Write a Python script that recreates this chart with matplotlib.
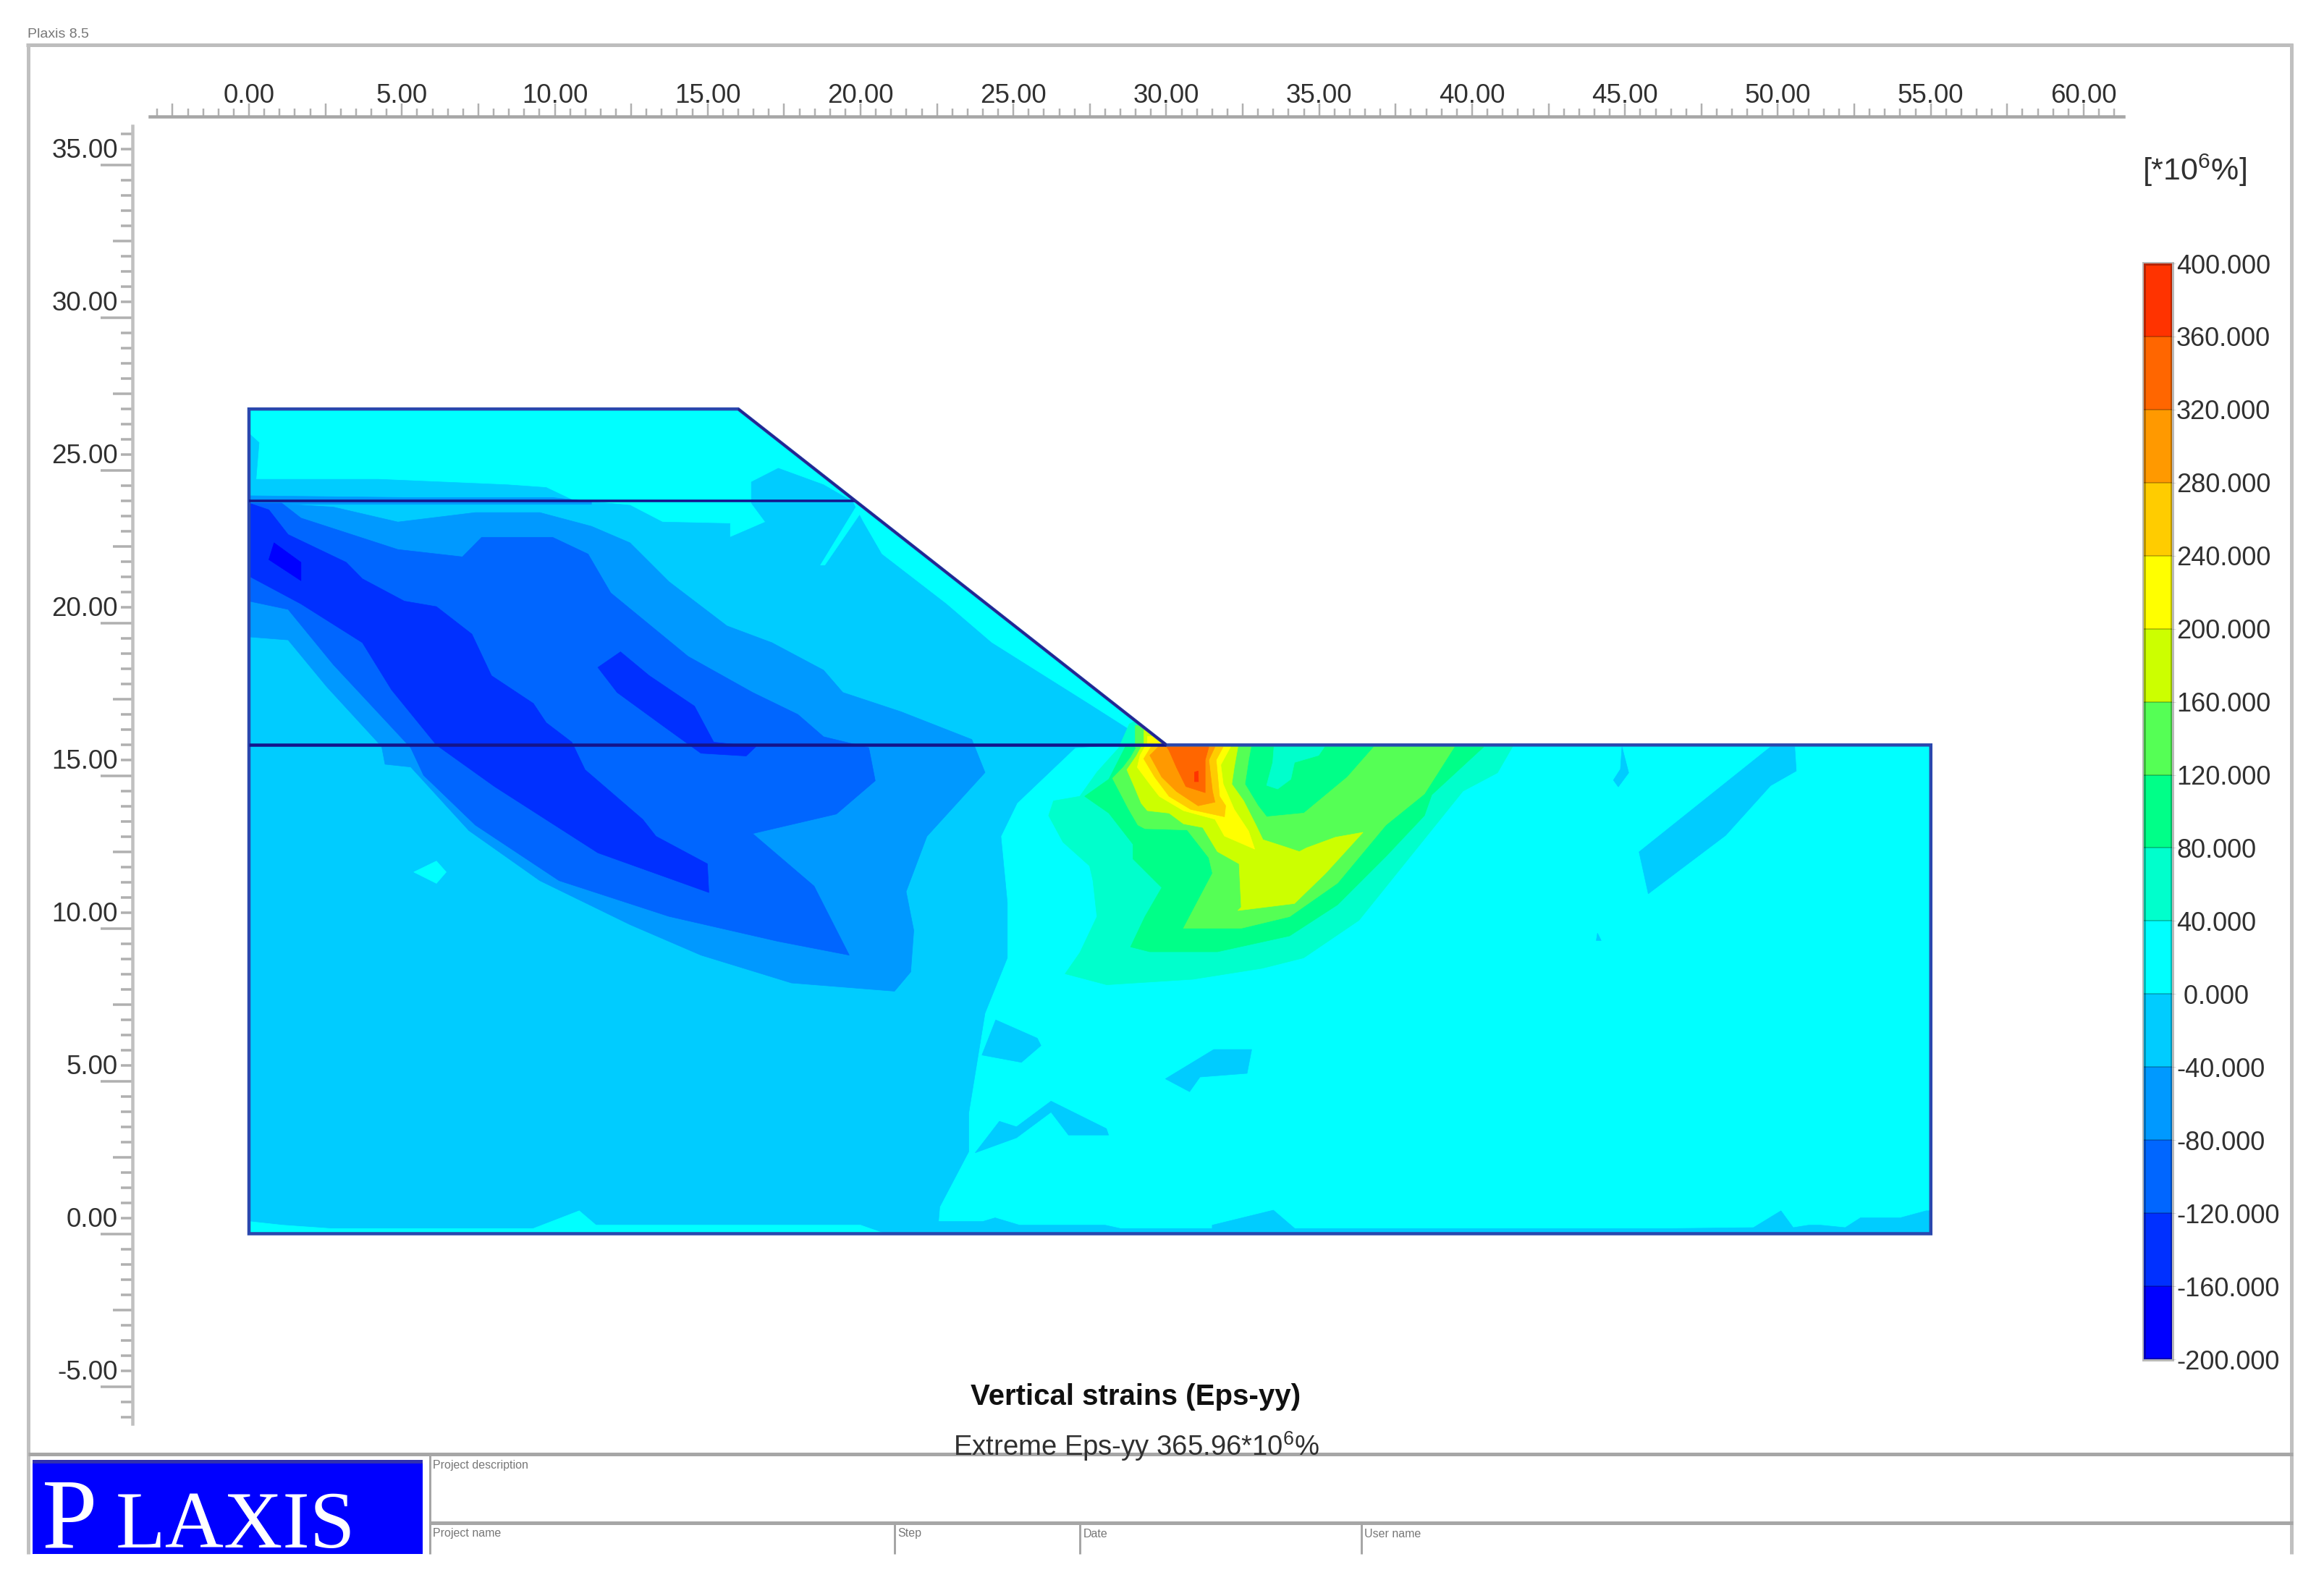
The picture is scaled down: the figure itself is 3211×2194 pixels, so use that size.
import matplotlib
matplotlib.use("Agg")
import matplotlib.pyplot as plt
from matplotlib.colors import ListedColormap, BoundaryNorm
from matplotlib.cm import ScalarMappable
from matplotlib.lines import Line2D
from matplotlib.patches import Polygon, Rectangle
from matplotlib.transforms import ScaledTranslation
import numpy as np

plt.rcParams['font.family'] = ['Liberation Sans', 'DejaVu Sans']
plt.rcParams['mathtext.default'] = 'regular'

W, H = 3212, 2194
DPI = 100

# ---- data ---------------------------------------------------------------
levels = [-200, -160, -120, -80, -40, 0, 40, 80, 120, 160, 200, 240, 280, 320, 360, 400]
band_colors = ['#0000FF', '#0030FF', '#0066FF', '#0099FF', '#00CCFF', '#00FFFF', '#00FFCC',
               '#00FF88', '#55FF55', '#CCFF00', '#FFFF00', '#FFCC00', '#FF9900', '#FF6600', '#FF3300']
x_labels = [0, 5, 10, 15, 20, 25, 30, 35, 40, 45, 50, 55, 60]
y_labels = [-5, 0, 5, 10, 15, 20, 25, 30, 35]

model_outline = [(0, 0), (55, 0), (55, 16), (30, 16), (16, 27), (0, 27)]
layer_upper = [(0, 24), (19.82, 24)]
layer_lower = [(0, 16), (30, 16)]
slope = [(16, 27), (30, 16)]

neg40_main = [(0, 26.2), (0.33, 25.9), (0.23, 24.7), (4.23, 24.7), (8.45, 24.52), (9.72, 24.43), (10.56, 24.03),
              (12.46, 23.85), (13.52, 23.3), (15.73, 23.25), (15.73, 22.8), (16.89, 23.3), (16.43, 23.92),
              (16.43, 24.61), (17.31, 25.06), (18.79, 24.52), (19.74, 23.97), (20.06, 23.34), (20.69, 22.25),
              (22.8, 20.62), (24.28, 19.35), (27.44, 17.36), (28.71, 16.55), (28.92, 16.04), (27.02, 15.91),
              (25.12, 14.1), (24.59, 13.01), (24.8, 10.84), (24.8, 9.03), (24.07, 7.22), (23.54, 3.96),
              (23.54, 2.69), (22.59, 0.88), (22.55, 0.42), (22.59, 0), (0, 0)]
neg40_isl_a = [(24.42, 7.0), (25.78, 6.4), (25.9, 6.16), (25.26, 5.61), (23.97, 5.85)]
neg40_isl_b = [(29.97, 5.07), (31.55, 6.03), (32.79, 6.03), (32.64, 5.25), (31.1, 5.13), (30.76, 4.65)]
neg40_isl_c = [(23.75, 2.65), (24.54, 3.68), (25.1, 3.5), (26.23, 4.34), (28.04, 3.44), (28.11, 3.23),
               (26.8, 3.23), (26.23, 3.98), (25.1, 3.14)]
neg40_isl_d = [(45.46, 12.5), (49.76, 15.94), (50.55, 15.94), (50.6, 15.15), (49.76, 14.67), (48.29, 13.04),
               (45.76, 11.13)]
neg40_isl_e = [(44.9, 15.94), (45.12, 15.09), (44.78, 14.63), (44.62, 14.85), (44.85, 15.21)]
neg40_isl_f = [(44.1, 9.84), (44.22, 9.6), (44.06, 9.6)]
neg40_bottom = [(22.55, 0), (22.55, 0.4), (24.0, 0.4), (24.4, 0.52), (25.2, 0.28), (28, 0.28), (28.5, 0.17),
                (31.5, 0.17), (31.5, 0.28), (33.5, 0.77), (34.2, 0.17), (46.6, 0.17), (49.2, 0.2), (50.1, 0.75),
                (50.5, 0.2), (51, 0.28), (51.4, 0.28), (52.2, 0.2), (52.7, 0.52), (54, 0.52), (54.85, 0.75),
                (55, 0.75), (55, 0)]
zero_hole = [(5.39, 11.84), (6.13, 12.2), (6.45, 11.84), (6.13, 11.47)]
zero_sliver = [(19.85, 23.79), (18.69, 21.89), (18.83, 21.89), (20.01, 23.61)]
zero_bottom = [(0, 0.4), (1.1, 0.28), (2.65, 0.17), (9.3, 0.17), (10.8, 0.75), (11.35, 0.28), (20, 0.28),
               (20.8, 0), (0, 0)]

neg80 = [(0, 24.16), (5.29, 24.1), (9.93, 24.1), (11.2, 23.97), (11.2, 23.88), (1.28, 23.88), (2.76, 23.79),
         (4.87, 23.3), (7.4, 23.61), (9.51, 23.61), (11.2, 23.16), (12.46, 22.62), (13.73, 21.35), (15.63, 19.9),
         (17.1, 19.35), (18.79, 18.45), (19.42, 17.72), (21.32, 17.09), (23.64, 16.18), (24.07, 15.1),
         (22.17, 13.01), (21.49, 11.2), (21.74, 9.93), (21.64, 8.57), (21.11, 7.94), (17.74, 8.21), (14.78, 9.12),
         (12.46, 10.12), (9.51, 11.56), (7.19, 13.2), (5.29, 15.28), (4.45, 15.37), (4.34, 15.95), (2.55, 17.9),
         (1.28, 19.44), (0, 19.54)]
neg120 = [(0, 23.92), (1.07, 23.92), (1.7, 23.43), (4.87, 22.4), (6.98, 22.16), (7.61, 22.8), (9.93, 22.8),
          (11.09, 22.25), (11.83, 20.98), (14.36, 18.9), (16.47, 17.72), (17.95, 17.0), (18.79, 16.27),
          (20.27, 15.91), (20.48, 14.83), (19.21, 13.74), (16.47, 13.1), (18.48, 11.38), (19.63, 9.12),
          (17.31, 9.57), (13.73, 10.39), (10.14, 11.56), (7.4, 13.38), (5.71, 15.01), (5.29, 15.91), (2.76, 18.63),
          (1.28, 20.44), (0, 20.71)]
neg160_a = [(0, 23.92), (0.65, 23.7), (1.28, 22.89), (3.18, 21.98), (3.71, 21.44), (5.08, 20.71), (6.13, 20.53),
            (7.29, 19.63), (7.93, 18.27), (9.3, 17.36), (9.72, 16.73), (10.56, 16.09), (10.99, 15.19),
            (12.88, 13.56), (13.31, 13.01), (14.99, 12.11), (15.04, 11.17), (11.41, 12.47), (8.03, 14.64),
            (6.13, 16.0), (4.66, 17.81), (3.71, 19.35), (1.7, 20.62), (0, 21.53)]
neg160_b = [(11.41, 18.54), (12.15, 19.05), (13.09, 18.27), (14.57, 17.27), (15.2, 16.09), (16.58, 15.95),
            (16.26, 15.64), (14.78, 15.73), (13.52, 16.64), (12.04, 17.72)]
neg200 = [(0.65, 22.07), (0.82, 22.62), (1.7, 21.98), (1.7, 21.38)]

pos40 = [(28.79, 16.69), (28.44, 15.9), (27.73, 15.11), (27.17, 14.32), (26.31, 14.17), (26.15, 13.69),
         (26.62, 12.82), (27.49, 12.04), (27.6, 11.56), (27.73, 10.38), (27.17, 9.2), (26.69, 8.51), (28.05, 8.15),
         (30.87, 8.33), (33.14, 8.69), (34.49, 9.03), (36.3, 10.26), (39.7, 14.49), (40.83, 15.09), (41.33, 15.96),
         (30, 15.96), (29.2, 16.9)]
pos40_notch = [(33.52, 15.94), (35.17, 15.94), (34.98, 15.66), (34.19, 15.43), (34.07, 14.88), (33.64, 14.56),
               (33.28, 14.68), (33.48, 15.43)]
pos80 = [(28.67, 15.96), (28.12, 14.88), (27.33, 14.32), (28.12, 13.77), (28.91, 12.75), (28.91, 12.27),
         (29.85, 11.33), (29.3, 10.38), (28.83, 9.39), (29.46, 9.23), (31.67, 9.23), (34.03, 9.75), (35.6, 10.77),
         (37.18, 12.35), (38.44, 13.69), (38.68, 14.37), (40.38, 15.94)]
pos120 = [(29.03, 15.94), (28.83, 15.59), (28.59, 15.27), (28.24, 14.91), (28.59, 14.24), (28.75, 13.93),
          (29.07, 13.38), (29.3, 13.26), (30.68, 13.22), (31.39, 12.31), (31.51, 11.8), (30.56, 10.0), (32.45, 10.0),
          (34.03, 10.38), (35.6, 11.48), (37.18, 13.38), (38.44, 14.4), (39.42, 15.94), (36.79, 15.94), (35.92, 14.95),
          (34.5, 13.77), (33.28, 13.65), (33.0, 14.01), (32.57, 14.72), (32.69, 15.51), (32.77, 15.94)]
pos160 = [(29.18, 15.94), (29.03, 15.66), (28.71, 15.19), (28.95, 14.64), (29.18, 14.09), (29.38, 13.85),
          (30.09, 13.77), (30.56, 13.42), (31.19, 13.3), (31.67, 12.51), (32.38, 12.11), (32.45, 10.69), (32.34, 10.58),
          (34.19, 10.81), (35.21, 11.8), (36.43, 13.14), (35.53, 12.98), (34.58, 12.63), (34.35, 12.51), (33.87, 12.67),
          (33.16, 12.9), (32.93, 13.38), (32.53, 14.17), (32.14, 14.72), (32.22, 15.27), (32.34, 15.94)]
pos200 = [(29.3, 15.94), (29.14, 15.66), (29.05, 15.27), (29.46, 14.72), (29.77, 14.32), (30.56, 13.85),
          (31.59, 13.57), (31.9, 13.02), (32.89, 12.59), (32.69, 13.18), (32.22, 13.89), (31.86, 14.72), (31.78, 15.35),
          (32.1, 15.94)]
pos240 = [(29.5, 15.94), (29.26, 15.55), (29.62, 14.95), (30.09, 14.32), (30.8, 13.89), (31.9, 13.65), (31.94, 14.01),
          (31.74, 14.32), (31.63, 15.51), (31.86, 15.94)]
pos280 = [(29.74, 15.94), (29.46, 15.66), (29.85, 14.95), (30.33, 14.48), (31.04, 14.01), (31.59, 14.13),
          (31.51, 14.48), (31.39, 15.51), (31.59, 15.94)]
pos320 = [(30.01, 15.94), (30.09, 15.82), (30.33, 15.27), (30.64, 14.64), (31.27, 14.44), (31.27, 15.51), (31.39, 15.94)]
pos360 = [(30.92, 15.11), (31.04, 15.15), (31.05, 14.8), (30.92, 14.8)]
tip120 = [(28.98, 16.65), (28.98, 15.94), (30, 15.94), (30, 16.65)]
tip160 = [(29.25, 16.5), (29.25, 15.94), (30, 15.94), (30, 16.5)]
tip200 = [(29.38, 16.3), (29.38, 15.94), (30, 15.94), (30, 16.3)]

# lower bound of the band each region belongs to, in painting order
regions = [(neg40_main, -40), (neg40_isl_a, -40), (neg40_isl_b, -40), (neg40_isl_c, -40), (neg40_isl_d, -40),
           (neg40_isl_e, -40), (neg40_isl_f, -40), (neg40_bottom, -40), (zero_hole, 0), (zero_sliver, 0),
           (zero_bottom, 0), (neg80, -80), (neg120, -120), (neg160_a, -160), (neg160_b, -160), (neg200, -200),
           (pos40, 40), (pos80, 80), (pos40_notch, 40), (pos120, 120), (tip120, 120), (pos160, 160), (tip160, 160),
           (pos200, 200), (tip200, 200), (pos240, 240), (pos280, 280), (pos320, 320), (pos360, 360)]

# ---- layout (pixels of the saved picture) --------------------------------
X0_PX, Y0_PX = 344.0, 1704.5
SX, SY = 42.25, 42.2
TEXT = '#303030'
GREY = '#a6a6a6'
TICK = '#b0b0b0'
LIGHT = '#c0c0c0'
pt = 72.0 / DPI

fig = plt.figure(figsize=(W / DPI, H / DPI), dpi=DPI, facecolor='white')
ax = fig.add_axes([0, 0, 1, 1])
ax.patch.set_visible(False)
ax.set_xlim(-X0_PX / SX, (W - X0_PX) / SX)
ax.set_ylim((Y0_PX - H) / SY, Y0_PX / SY)

cmap = ListedColormap(band_colors)
norm = BoundaryNorm(levels, cmap.N)

clip = Polygon(model_outline, closed=True, transform=ax.transData)
ax.fill(*zip(*model_outline), color=cmap(norm(0.5)), lw=0, zorder=1)
for i, (verts, low) in enumerate(regions):
    xs, ys = zip(*verts)
    for p in ax.fill(xs, ys, facecolor=cmap(norm(low + 1)), edgecolor=cmap(norm(low + 1)), lw=0.5, zorder=2 + i * 0.01):
        p.set_clip_path(clip)

ax.add_patch(Polygon(model_outline, closed=True, fill=False, edgecolor='#2a48ae', lw=4.5 * pt, joinstyle='miter', zorder=5))
ax.plot(*zip(*layer_upper), color='#14148c', lw=3.5 * pt, solid_capstyle='butt', zorder=6)
ax.plot(*zip(*layer_lower), color='#14148c', lw=4.5 * pt, solid_capstyle='butt', zorder=6)
ax.plot(*zip(*slope), color='#24248f', lw=3 * pt, solid_capstyle='butt', zorder=6)

# rulers
for s in ('right', 'bottom'):
    ax.spines[s].set_visible(False)
ax.spines['top'].set_position(('data', (Y0_PX - 161) / SY))
ax.spines['top'].set_bounds((207 - X0_PX) / SX, (2934 - X0_PX) / SX)
ax.spines['top'].set_color(GREY)
ax.spines['top'].set_linewidth(4.5 * pt)
ax.spines['left'].set_position(('data', (183 - X0_PX) / SX))
ax.spines['left'].set_bounds((Y0_PX - 1967) / SY, (Y0_PX - 174) / SY)
ax.spines['left'].set_color(LIGHT)
ax.spines['left'].set_linewidth(4.5 * pt)

ax.xaxis.set_ticks_position('top')
ax.set_xticks(x_labels)
ax.set_xticklabels([f'{v:.2f}' for v in x_labels])
ax.set_xticks(np.arange(-3, 61.5, 0.5), minor=True)
ax.set_yticks(y_labels)
ax.set_yticklabels([f'{v:.2f}' for v in y_labels])
ax.set_yticks(np.arange(-6, 36.5, 0.5), minor=True)
ax.tick_params(axis='x', which='major', length=18 * pt, width=2.5 * pt, color=TICK, labelsize=26.5, labelcolor=TEXT, pad=-7 * pt)
ax.tick_params(axis='x', which='minor', length=11 * pt, width=2.5 * pt, color=TICK)
ax.tick_params(axis='y', which='major', length=44 * pt, width=3.5 * pt, color=TICK, labelsize=26.5, labelcolor=TEXT, pad=-24 * pt)
ax.tick_params(axis='y', which='minor', length=16 * pt, width=3.5 * pt, color=TICK)
for loc, tick in zip(ax.xaxis.get_minorticklocs(), ax.xaxis.get_minor_ticks()):
    if abs(loc % 5 - 2.5) < 1e-6:
        tick.tick2line.set_markersize(18 * pt)
for loc, tick in zip(ax.yaxis.get_minorticklocs(), ax.yaxis.get_minor_ticks()):
    if abs(loc % 5 - 2.5) < 1e-6:
        tick.tick1line.set_markersize(27 * pt)
shift = ScaledTranslation(0, 23 / DPI, fig.dpi_scale_trans)
for lab in ax.get_yticklabels():
    lab.set_transform(lab.get_transform() + shift)

# colour scale
cax = fig.add_axes([2962 / W, 1 - 1878 / H, 39 / W, (1878 - 364) / H])
cb = fig.colorbar(ScalarMappable(norm=norm, cmap=cmap), cax=cax, drawedges=True, spacing='uniform')
cb.set_ticks(levels)
cb.set_ticklabels([(' ' if v == 0 else '') + f'{v:.3f}' for v in levels])
cb.outline.set_edgecolor((0, 0, 0, 0.28))
cb.outline.set_linewidth(5 * pt)
cb.dividers.set_color((0, 0, 0, 0.3))
cb.dividers.set_linewidth(1.5 * pt)
cax.tick_params(axis='y', which='both', length=5 * pt, width=1 * pt, color='#dddddd', labelsize=26, labelcolor=TEXT, pad=1 * pt)
cax.minorticks_off()


def ftext(px, py, s, **kw):
    kw.setdefault('color', TEXT)
    kw.setdefault('va', 'center')
    return fig.text(px / W, 1 - py / H, s, **kw)


def fline(x0, y0, x1, y1, color=GREY, lw=5):
    fig.add_artist(Line2D([x0 / W, x1 / W], [1 - y0 / H, 1 - y1 / H], color=color, lw=lw * pt,
                          solid_capstyle='butt', transform=fig.transFigure, zorder=1))


# frame and title block
fline(36, 62, 3168, 62, '#bdbdbd', 5)
fline(39, 60, 39, 2147, LIGHT, 5)
fline(3166, 60, 3166, 2147, LIGHT, 5)
fline(39, 2009, 3168, 2009, GREY, 5)
fline(594, 2009, 594, 2147, GREY, 3)
fline(594, 2104, 3168, 2104, GREY, 5)
fline(1236, 2104, 1236, 2147, GREY, 3)
fline(1492, 2104, 1492, 2147, GREY, 3)
fline(1881, 2104, 1881, 2147, GREY, 3)

fig.add_artist(Rectangle((45 / W, 1 - 2147 / H), (584 - 45) / W, (2147 - 2017) / H, facecolor='#0000FF', edgecolor='none',
                         transform=fig.transFigure, zorder=2))
fig.add_artist(Rectangle((45 / W, 1 - 2022 / H), (584 - 45) / W, 5 / H, facecolor='#3030b0', edgecolor='none',
                         transform=fig.transFigure, zorder=2))
ftext(58, 2138, 'P', color='white', family='Liberation Serif', fontsize=99, va='baseline', ha='left', zorder=3)
ftext(160, 2138, 'LAXIS', color='white', family='Liberation Serif', fontsize=81, va='baseline', ha='left', zorder=3)

ftext(38, 48, 'Plaxis 8.5', color='#777777', fontsize=14, ha='left')
ftext(598, 2025, 'Project description', color='#777777', fontsize=11.5, ha='left')
ftext(598, 2119, 'Project name', color='#777777', fontsize=11.5, ha='left')
ftext(1240, 2119, 'Step', color='#777777', fontsize=11.5, ha='left')
ftext(1497, 2119, 'Date', color='#777777', fontsize=11.5, ha='left')
ftext(1885, 2119, 'User name', color='#777777', fontsize=11.5, ha='left')

ftext(1569, 1930, 'Vertical strains (Eps-yy)', color='#111111', fontsize=29, fontweight='bold', ha='center', zorder=4)
ftext(1570, 1998, 'Extreme Eps-yy 365.96*10$^{6}$%', fontsize=27.5, ha='center', zorder=4)
ftext(3032, 235, '[*10$^{6}$%]', fontsize=31, ha='center')

fig.savefig('out.png', dpi=DPI, facecolor='white')
